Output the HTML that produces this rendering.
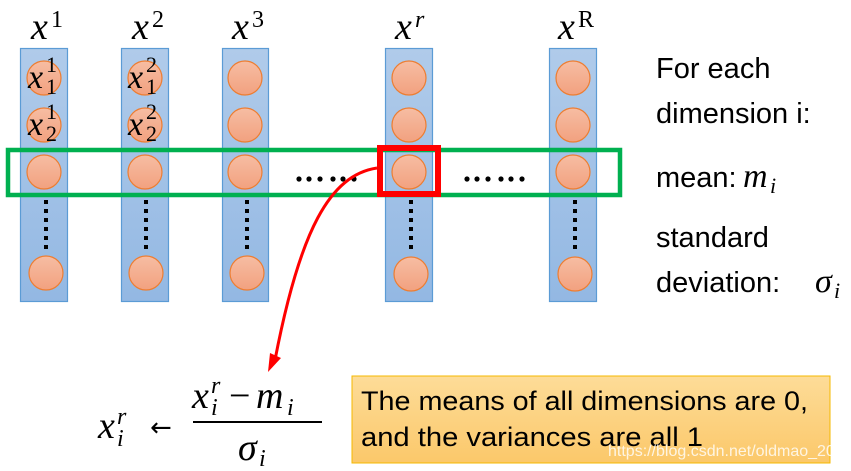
<!DOCTYPE html>
<html><head><meta charset="utf-8"><style>
html,body{margin:0;padding:0;background:#fff;}
svg{display:block;}
.m{font-family:"Liberation Serif",serif;font-style:italic;}
.s{font-family:"Liberation Sans",sans-serif;}
</style></head><body>
<svg width="851" height="471" viewBox="0 0 851 471" xmlns="http://www.w3.org/2000/svg">
<defs>
<linearGradient id="cb" x1="0" y1="0" x2="0" y2="1"><stop offset="0" stop-color="#b0cbea"/><stop offset="1" stop-color="#93b8e3"/></linearGradient>
<linearGradient id="cc" x1="0" y1="0" x2="0" y2="1"><stop offset="0" stop-color="#f6bda3"/><stop offset="1" stop-color="#f2a17f"/></linearGradient>
<linearGradient id="yb" x1="0" y1="0" x2="0" y2="1"><stop offset="0" stop-color="#fddc98"/><stop offset="1" stop-color="#fbc86a"/></linearGradient>
</defs>
<g stroke="#5b9bd5" stroke-width="1.2" fill="url(#cb)">
<rect x="20.5" y="48.5" width="47" height="253"/>
<rect x="121.5" y="48.5" width="47" height="253"/>
<rect x="222.5" y="48.5" width="46" height="253"/>
<rect x="385.5" y="48.5" width="47" height="253"/>
<rect x="549.5" y="48.5" width="47" height="253"/>
</g>
<g stroke="#ed7d31" stroke-width="1.2" fill="url(#cc)">
<circle cx="44" cy="78" r="17"/><circle cx="44" cy="125" r="17"/><circle cx="44" cy="172" r="17"/><circle cx="46" cy="273" r="17"/>
<circle cx="145" cy="78" r="17"/><circle cx="145" cy="125" r="17"/><circle cx="145" cy="172" r="17"/><circle cx="146" cy="273" r="17"/>
<circle cx="245" cy="78" r="17"/><circle cx="245" cy="125" r="17"/><circle cx="245" cy="172" r="17"/><circle cx="247" cy="273" r="17"/>
<circle cx="409" cy="78" r="17"/><circle cx="409" cy="125" r="17"/><circle cx="409" cy="172" r="17"/><circle cx="411" cy="274" r="17"/>
<circle cx="573" cy="78" r="17"/><circle cx="573" cy="125" r="17"/><circle cx="573" cy="172" r="17"/><circle cx="575" cy="274" r="17"/>
</g>
<g stroke="#000" stroke-width="4" stroke-dasharray="4 5">
<line x1="46" y1="200" x2="46" y2="250"/>
<line x1="146" y1="200" x2="146" y2="250"/>
<line x1="247" y1="200" x2="247" y2="250"/>
<line x1="411" y1="200" x2="411" y2="250"/>
<line x1="575" y1="200" x2="575" y2="250"/>
</g>
<g fill="#000">
<circle cx="299" cy="179" r="2.6"/><circle cx="309" cy="179" r="2.6"/><circle cx="320" cy="179" r="2.6"/><circle cx="333" cy="179" r="2.6"/><circle cx="343" cy="179" r="2.6"/><circle cx="354" cy="179" r="2.6"/>
<circle cx="467" cy="179" r="2.6"/><circle cx="477" cy="179" r="2.6"/><circle cx="488" cy="179" r="2.6"/><circle cx="501" cy="179" r="2.6"/><circle cx="511" cy="179" r="2.6"/><circle cx="522" cy="179" r="2.6"/>
</g>
<rect x="8" y="150" width="612" height="45" fill="none" stroke="#00b050" stroke-width="4.5"/>
<rect x="380" y="148" width="58" height="46" fill="none" stroke="#ff0000" stroke-width="6"/>
<path d="M377 168 C 330 175, 300 230, 275 360" fill="none" stroke="#ff0000" stroke-width="3"/>
<polygon points="268,372 270,353 281,358" fill="#ff0000"/>
<g class="m" font-size="38">
<text x="31" y="39">x</text><text x="51" y="27" font-size="24" font-style="normal">1</text>
<text x="132" y="39">x</text><text x="152" y="27" font-size="24" font-style="normal">2</text>
<text x="232" y="39">x</text><text x="252" y="27" font-size="24" font-style="normal">3</text>
<text x="395" y="39">x</text><text x="415" y="27" font-size="24">r</text>
<text x="558" y="39">x</text><text x="578" y="27" font-size="24" font-style="normal">R</text>
</g>
<g class="m" font-size="34">
<text x="28" y="88">x</text><text x="46" y="72" font-size="22" font-style="normal">1</text><text x="46" y="94" font-size="22" font-style="normal">1</text>
<text x="28" y="135">x</text><text x="46" y="119" font-size="22" font-style="normal">1</text><text x="46" y="141" font-size="22" font-style="normal">2</text>
<text x="128" y="88">x</text><text x="146" y="72" font-size="22" font-style="normal">2</text><text x="146" y="94" font-size="22" font-style="normal">1</text>
<text x="128" y="135">x</text><text x="146" y="119" font-size="22" font-style="normal">2</text><text x="146" y="141" font-size="22" font-style="normal">2</text>
</g>
<g class="s" font-size="29" fill="#000">
<text x="656" y="78">For each</text>
<text x="656" y="123">dimension i:</text>
<text x="656" y="187">mean: </text><text x="743" y="187" class="m" font-size="34">m</text><text x="770" y="193" class="m" font-size="22">i</text>
<text x="656" y="247">standard</text>
<text x="656" y="292">deviation: </text><text x="815" y="292" class="m" font-size="34">σ</text><text x="834" y="298" class="m" font-size="22">i</text>
</g>
<g class="m" font-size="38">
<text x="98" y="438">x</text><text x="117" y="424" font-size="24">r</text><text x="117" y="446" font-size="24">i</text>
<text x="150" y="436" font-style="normal" font-family="'DejaVu Sans',sans-serif" font-size="26">←</text>
<text x="192" y="408">x</text><text x="211" y="393" font-size="24">r</text><text x="211" y="415" font-size="24">i</text>
<text x="229" y="408" font-style="normal">−</text>
<text x="256" y="408">m</text><text x="287" y="415" font-size="24">i</text>
<text x="238" y="460">σ</text><text x="259" y="466" font-size="24">i</text>
</g>
<line x1="193" y1="422" x2="322" y2="422" stroke="#000" stroke-width="2"/>
<rect x="352" y="376" width="478" height="87" fill="url(#yb)" stroke="#f5b800" stroke-width="1"/>
<g class="s" font-size="27" fill="#000">
<text x="361" y="410" textLength="447" lengthAdjust="spacingAndGlyphs">The means of all dimensions are 0,</text>
<text x="361" y="446" textLength="342" lengthAdjust="spacingAndGlyphs">and the variances are all 1</text>
</g>
<text x="608" y="456" class="s" font-size="16" fill="#ffffff" fill-opacity="0.8">https://blog.csdn.net/oldmao_2001</text>
</svg>
</body></html>
